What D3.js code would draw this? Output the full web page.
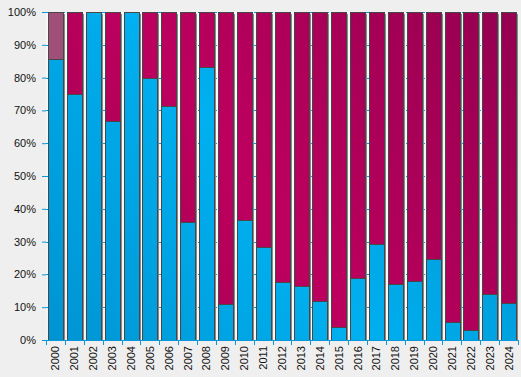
<!DOCTYPE html>
<html>
<head>
<meta charset="utf-8">
<script src="https://cdn.jsdelivr.net/npm/d3@7"></script>
<style>
  body { margin: 0; background: #efefef; }
  svg { display: block; font-family: "Liberation Sans", Arial, sans-serif; }
</style>
</head>
<body>
<svg id="chart" width="521" height="377"></svg>
<script>
// share of each year, in percent
var years = ["2000","2001","2002","2003","2004","2005","2006","2007","2008","2009",
  "2010","2011","2012","2013","2014","2015","2016","2017","2018","2019",
  "2020","2021","2022","2023","2024"];
var blue = [85.7, 75, 100, 66.7, 100, 80, 71.4, 36.1, 83.3, 10.9,
  36.7, 28.4, 17.8, 16.6, 12.0, 4.1, 19.0, 29.2, 17.2, 18.1,
  24.8, 5.6, 3.1, 14.1, 11.4];
var other = [14.3, 0, 0, 0, 0, 0, 0, 0, 0, 0,
  0, 0, 0, 0, 0, 0, 0, 0, 0, 0,
  0, 0, 0, 0, 0];
var yTicks = [0, 10, 20, 30, 40, 50, 60, 70, 80, 90, 100];

var rows = years.map(function(y, i){
  return {year: y, blue: blue[i], other: other[i], magenta: 100 - blue[i] - other[i]};
});

var svg = d3.select("#chart");
var m = {top: 12, right: 3, bottom: 37, left: 46};
var W = 521, H = 377;

var x = d3.scaleBand().domain(years)
  .range([m.left, W - m.right]).paddingInner(0.22).paddingOuter(0.11);
var y = d3.scaleLinear().domain([0, 100]).range([H - m.bottom, m.top]);

var defs = svg.append("defs");
function grad(id, stops){
  var g = defs.append("linearGradient").attr("id", id)
    .attr("gradientUnits", "userSpaceOnUse")
    .attr("x1", m.left).attr("y1", H - m.bottom)
    .attr("x2", W - m.right).attr("y2", m.top);
  stops.forEach(function(s){
    g.append("stop").attr("offset", s[0]).attr("stop-color", s[1]);
  });
}
grad("gBlue", [[0, "#0093d2"], [0.45, "#00b0f0"], [1, "#008cc8"]]);
grad("gMag", [[0, "#a0004e"], [0.45, "#bd005e"], [1, "#940050"]]);
grad("gOther", [[0, "#a05078"], [1, "#a05078"]]);
grad("gBg", [[0, "#f2f2f2"], [0.5, "#fbfbfb"], [1, "#f2f2f2"]]);

svg.append("rect")
  .attr("x", m.left).attr("y", m.top)
  .attr("width", W - m.right - m.left).attr("height", H - m.bottom - m.top)
  .attr("fill", "url(#gBg)");

// dashed grid
svg.append("g").selectAll("line").data(yTicks.slice(1)).join("line")
  .attr("x1", m.left).attr("x2", W - m.right)
  .attr("y1", function(d){ return Math.round(y(d)) + 0.5; })
  .attr("y2", function(d){ return Math.round(y(d)) + 0.5; })
  .attr("stroke", "#0a98d8").attr("stroke-dasharray", "3,5");

var series = [
  {key: "blue", fill: "url(#gBlue)"},
  {key: "other", fill: "url(#gOther)"},
  {key: "magenta", fill: "url(#gMag)"}
];
var stack = d3.stack().keys(series.map(function(s){ return s.key; }))(rows);

var bw = x.bandwidth();
// shadows
svg.append("g").selectAll("rect").data(rows).join("rect")
  .attr("x", function(d){ return Math.round(x(d.year)) + 2; })
  .attr("y", y(100) + 2)
  .attr("width", Math.round(bw)).attr("height", y(0) - y(100) - 2)
  .attr("fill", "#8a8a8a");

stack.forEach(function(layer, li){
  svg.append("g").selectAll("rect").data(layer.filter(function(d){ return d[1] > d[0]; }))
    .join("rect")
    .attr("x", function(d){ return Math.round(x(d.data.year)) + 0.5; })
    .attr("y", function(d){ return Math.round(y(d[1])) + 0.5; })
    .attr("width", Math.round(bw))
    .attr("height", function(d){ return Math.round(y(d[0])) - Math.round(y(d[1])); })
    .attr("fill", series[li].fill)
    .attr("stroke", "#474747").attr("stroke-width", 1);
});

// y axis
var ya = svg.append("g").attr("transform", "translate(" + m.left + ",0)")
  .call(d3.axisLeft(y).tickValues(yTicks).tickSize(4).tickPadding(6)
    .tickFormat(function(d){ return d + "%"; }));
ya.select(".domain").remove();
ya.selectAll(".tick line").attr("stroke", "#0a98d8");
ya.selectAll("text").attr("fill", "#111").style("font-size", "11px");

// x axis with ticks at band boundaries
var base = y(0);
svg.append("line").attr("x1", m.left - 4).attr("x2", W - m.right)
  .attr("y1", base + 0.5).attr("y2", base + 0.5).attr("stroke", "#0a98d8");
var bounds = years.map(function(d){ return x(d) - x.step() * x.paddingInner() / 2; });
bounds.push(x(years[years.length - 1]) + bw + x.step() * x.paddingInner() / 2);
svg.append("g").selectAll("line").data(bounds).join("line")
  .attr("x1", function(d){ return Math.round(d) + 0.5; })
  .attr("x2", function(d){ return Math.round(d) + 0.5; })
  .attr("y1", base).attr("y2", base + 5)
  .attr("stroke", "#0a98d8");

svg.append("g").selectAll("text").data(years).join("text")
  .attr("transform", function(d){
    return "translate(" + (x(d) + bw / 2 + 4) + "," + (base + 6) + ") rotate(-90)";
  })
  .attr("text-anchor", "end")
  .attr("fill", "#111").style("font-size", "11px")
  .text(function(d){ return d; });
</script>
</body>
</html>
